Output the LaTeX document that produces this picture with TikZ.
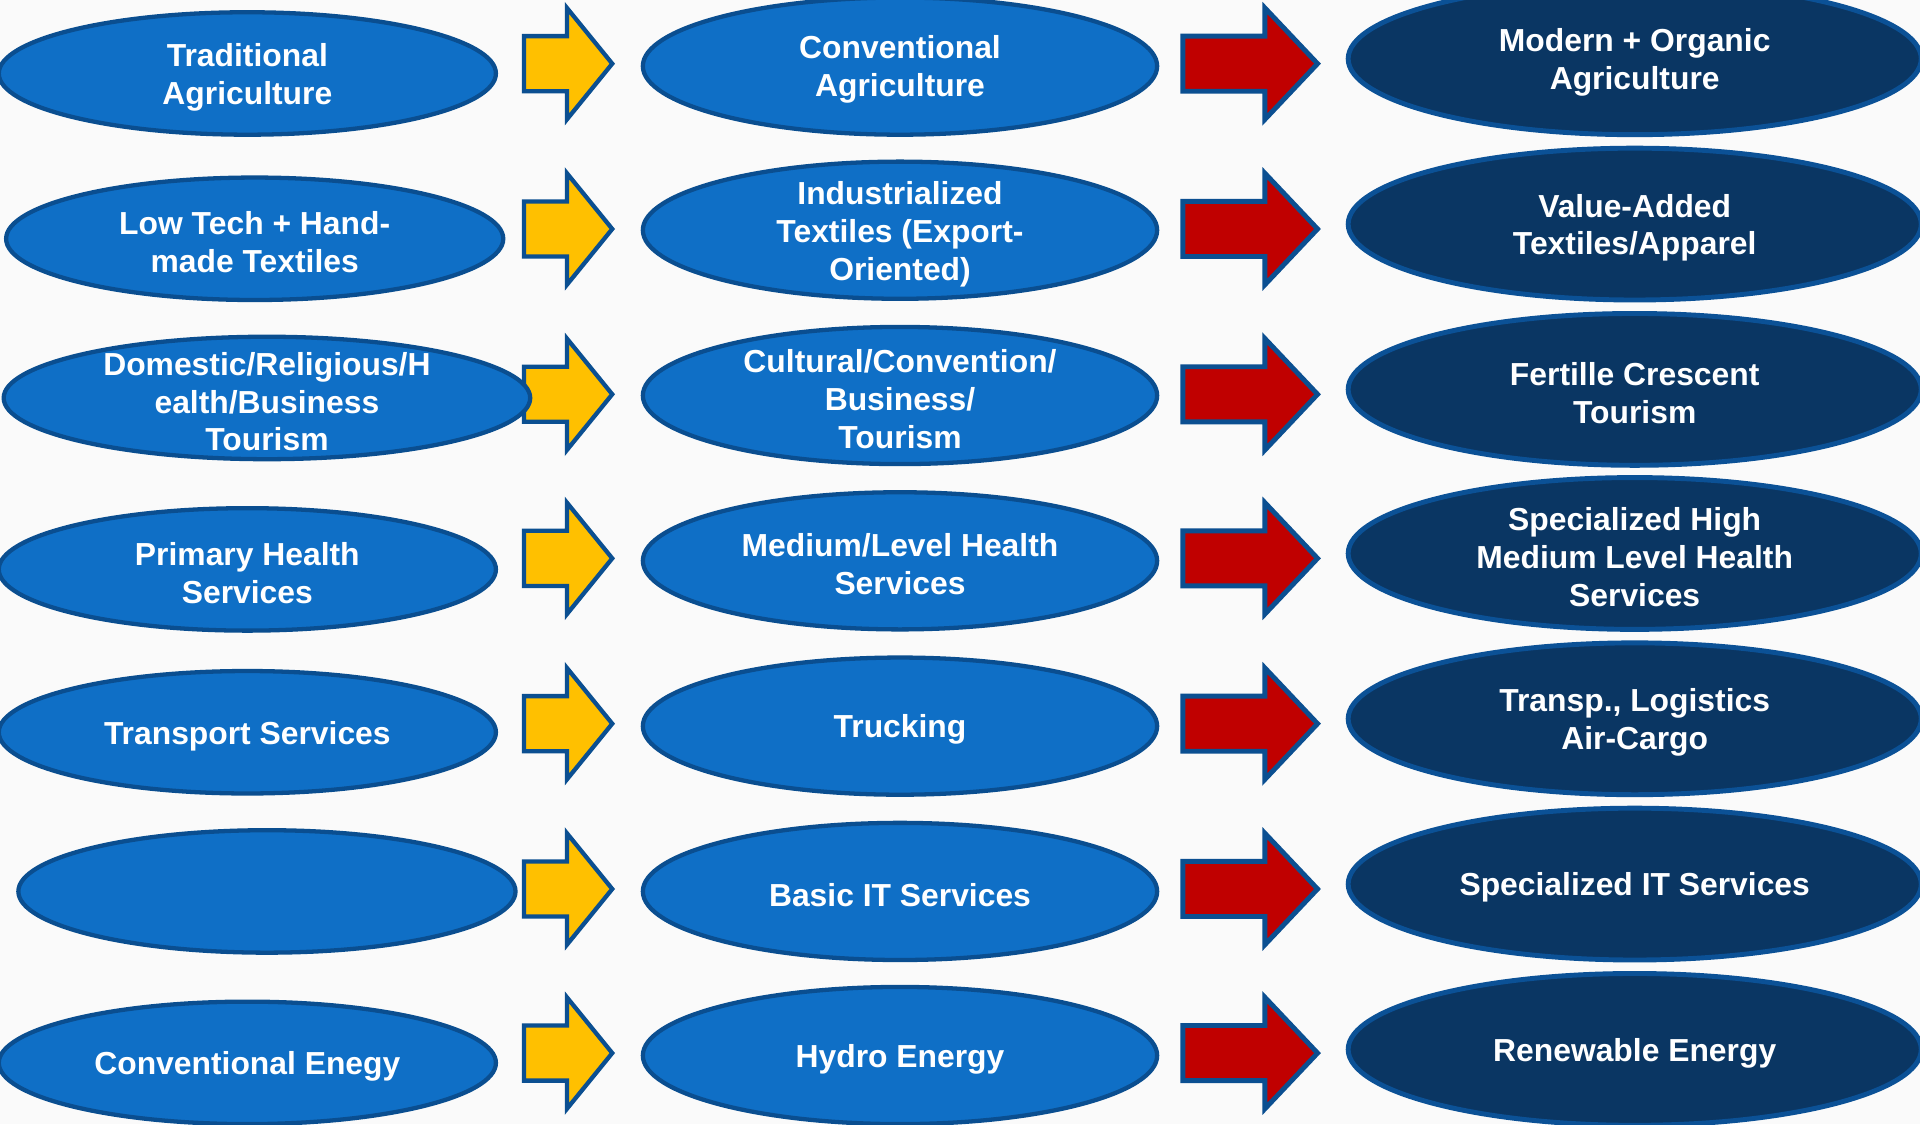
\documentclass[tikz,border=0pt]{standalone}
\usepackage{fontspec}
\setmainfont{Liberation Sans}
\usetikzlibrary{shapes.geometric}
\definecolor{bgc}{HTML}{FAFAFA}
\definecolor{lblue}{HTML}{0F6FC6}
\definecolor{lborder}{HTML}{0A4E90}
\definecolor{navy}{HTML}{0A3663}
\definecolor{nborder}{HTML}{0B5196}
\definecolor{ayellow}{HTML}{FFC000}
\definecolor{ared}{HTML}{C00000}
\definecolor{aborder}{HTML}{0B4F91}
\newcommand\blockarr[4]{%
  \draw[#1] (#2) ++(0,-22.5) -- ++(#3,0) -- ++(0,-23) -- ++(#4,45.5) -- ++(-#4,45.5) -- ++(0,-23) -- ++(-#3,0) -- cycle;}
\begin{document}
\begin{tikzpicture}[x=1pt,y=-1pt,
  lightell/.style={ellipse, draw=lborder, fill=lblue, line width=3.5pt, inner sep=0pt},
  leftell/.style={lightell, minimum width=406pt, minimum height=100pt},
  midell/.style={lightell, minimum width=420pt, minimum height=112pt},
  darkell/.style={ellipse, draw=nborder, fill=navy, line width=4pt, inner sep=0pt, minimum width=468pt, minimum height=124pt},
  lbl/.style={text=white, font=\fontsize{26}{31}\selectfont\bfseries, align=center, inner sep=0pt, yshift=-3pt},
  yarrow/.style={fill=ayellow, draw=aborder, line width=3.5pt, line join=miter},
  rarrow/.style={fill=ared, draw=aborder, line width=4pt, line join=miter}]
\fill[bgc] (0,0) rectangle (1568,918);
\useasboundingbox (0,0) rectangle (1568,918);

% arrow anchor coordinates
\foreach \i/\y in {1/52,2/187,3/322,4/456,5/591,6/726,7/860}{
  \coordinate (ya\i) at (428,\y);
  \coordinate (ra\i) at (966,\y);
}
% yellow arrows (drawn beneath ellipses)
\foreach \i in {1,...,7}{ \blockarr{yarrow}{ya\i}{35}{37} }
% red arrows
\foreach \i in {1,...,7}{ \blockarr{rarrow}{ra\i}{67}{43} }

% left column
\node[leftell] (L1) at (202,60) {};
\node[leftell] (L2) at (208,195) {};
\node[leftell, minimum width=430pt] (L3) at (218,325) {};
\node[leftell] (L4) at (202,465) {};
\node[leftell] (L5) at (202,598) {};
\node[leftell] (L6) at (218,728) {};
\node[leftell] (L7) at (202,868) {};

\node[lbl] (tL1) at (L1) {Traditional\\Agriculture};
\node[lbl] (tL2) at (L2) {Low Tech + Hand-\\made Textiles};
\node[lbl] (tL3) at (L3) {Domestic/Religious/H\\ealth/Business\\Tourism};
\node[lbl] (tL4) at (L4) {Primary Health\\Services};
\node[lbl] (tL5) at (L5) {Transport Services};
\node[lbl] (tL7) at (L7) {Conventional Enegy};

% middle column
\node[midell] (M1) at (735,54) {};
\node[midell] (M2) at (735,188) {};
\node[midell] (M3) at (735,323) {};
\node[midell] (M4) at (735,458) {};
\node[midell] (M5) at (735,593) {};
\node[midell] (M6) at (735,728) {};
\node[midell] (M7) at (735,862) {};

\node[lbl] (tM1) at (M1) {Conventional\\Agriculture};
\node[lbl] (tM2) at (M2) {Industrialized\\Textiles (Export-\\Oriented)};
\node[lbl] (tM3) at (M3) {Cultural/Convention/\\Business/\\Tourism};
\node[lbl] (tM4) at (M4) {Medium/Level Health\\Services};
\node[lbl] (tM5) at (M5) {Trucking};
\node[lbl] (tM6) at (M6) {Basic IT Services};
\node[lbl] (tM7) at (M7) {Hydro Energy};

% right column
\node[darkell] (R1) at (1335,48) {};
\node[darkell] (R2) at (1335,183) {};
\node[darkell] (R3) at (1335,318) {};
\node[darkell] (R4) at (1335,452) {};
\node[darkell] (R5) at (1335,587) {};
\node[darkell] (R6) at (1335,722) {};
\node[darkell] (R7) at (1335,857) {};

\node[lbl] (tR1) at (R1) {Modern + Organic\\Agriculture};
\node[lbl] (tR2) at (R2) {Value-Added\\Textiles/Apparel};
\node[lbl] (tR3) at (R3) {Fertille Crescent\\Tourism};
\node[lbl] (tR4) at (R4) {Specialized High\\Medium Level Health\\Services};
\node[lbl] (tR5) at (R5) {Transp., Logistics\\Air-Cargo};
\node[lbl] (tR6) at (R6) {Specialized IT Services};
\node[lbl] (tR7) at (R7) {Renewable Energy};
\end{tikzpicture}
\end{document}
